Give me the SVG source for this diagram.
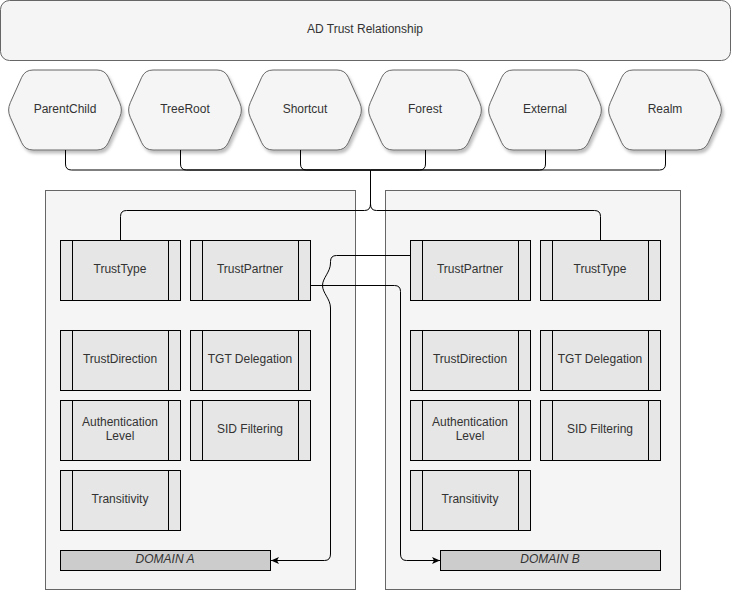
<svg xmlns="http://www.w3.org/2000/svg" xmlns:xlink="http://www.w3.org/1999/xlink" width="732" height="592" viewBox="0 0 732 592">
<style>
text{font-family:"Liberation Sans",Arial,Helvetica,sans-serif;font-size:12px;fill:#333;text-anchor:middle}
.ttl{fill:#f5f5f5;stroke:#666;stroke-width:1}
.hex{fill:#f5f5f5;stroke:#666;stroke-width:1}
.cont{fill:#f5f5f5;stroke:#666;stroke-width:1}
.proc{fill:#e6e6e6;stroke:#000;stroke-width:1}
.bar{fill:none;stroke:#000;stroke-width:1}
.dom{fill:#cccccc;stroke:#000;stroke-width:1}
.dt{font-style:italic}
.edge{fill:none;stroke:#000;stroke-width:1}
</style>
<defs>
<filter id="sh" x="-20%" y="-20%" width="140%" height="150%">
<feDropShadow dx="2" dy="3" stdDeviation="1.5" flood-color="#000" flood-opacity="0.25"/>
</filter>
<path id="hexp" d="M-54.7,32.7 L-43.3,7.3 Q-40,0 -32,0 L32,0 Q40,0 43.3,7.3 L54.7,32.7 Q58,40 54.7,47.3 L43.3,72.7 Q40,80 32,80 L-32,80 Q-40,80 -43.3,72.7 L-54.7,47.3 Q-58,40 -54.7,32.7 Z"/>
<marker id="arr" markerWidth="10" markerHeight="8" refX="8" refY="4" orient="auto" markerUnits="userSpaceOnUse">
<path d="M0,0.5 L8,4 L0,7.5 L2,4 Z" fill="#000"/>
</marker>
</defs>

<g id="title">
<rect class="ttl" x="0.5" y="0.5" width="730" height="60" rx="9" ry="9"/>
<text x="365" y="33">AD Trust Relationship</text>
</g>

<g id="hex-parentchild"><use xlink:href="#hexp" href="#hexp" class="hex" x="65" y="70" filter="url(#sh)"/><text x="65" y="113">ParentChild</text></g>
<g id="hex-treeroot"><use xlink:href="#hexp" href="#hexp" class="hex" x="185" y="70" filter="url(#sh)"/><text x="185" y="113">TreeRoot</text></g>
<g id="hex-shortcut"><use xlink:href="#hexp" href="#hexp" class="hex" x="305" y="70" filter="url(#sh)"/><text x="305" y="113">Shortcut</text></g>
<g id="hex-forest"><use xlink:href="#hexp" href="#hexp" class="hex" x="425" y="70" filter="url(#sh)"/><text x="425" y="113">Forest</text></g>
<g id="hex-external"><use xlink:href="#hexp" href="#hexp" class="hex" x="545" y="70" filter="url(#sh)"/><text x="545" y="113">External</text></g>
<g id="hex-realm"><use xlink:href="#hexp" href="#hexp" class="hex" x="665" y="70" filter="url(#sh)"/><text x="665" y="113">Realm</text></g>

<g id="domain-a-container"><rect class="cont" x="45.5" y="190.5" width="310" height="399"/></g>
<g id="domain-b-container"><rect class="cont" x="385.5" y="190.5" width="295" height="399"/></g>

<g id="a-trusttype"><rect class="proc" x="60.5" y="240.5" width="120" height="60"/><path class="bar" d="M72.5,240.5V300.5M168.5,240.5V300.5"/><text x="120" y="273">TrustType</text></g>
<g id="a-trustpartner"><rect class="proc" x="190.5" y="240.5" width="120" height="60"/><path class="bar" d="M202.5,240.5V300.5M298.5,240.5V300.5"/><text x="250" y="273">TrustPartner</text></g>
<g id="a-trustdirection"><rect class="proc" x="60.5" y="330.5" width="120" height="60"/><path class="bar" d="M72.5,330.5V390.5M168.5,330.5V390.5"/><text x="120" y="363">TrustDirection</text></g>
<g id="a-tgtdelegation"><rect class="proc" x="190.5" y="330.5" width="120" height="60"/><path class="bar" d="M202.5,330.5V390.5M298.5,330.5V390.5"/><text x="250" y="363">TGT Delegation</text></g>
<g id="a-authlevel"><rect class="proc" x="60.5" y="400.5" width="120" height="60"/><path class="bar" d="M72.5,400.5V460.5M168.5,400.5V460.5"/><text x="120" y="425.5">Authentication</text><text x="120" y="439.5">Level</text></g>
<g id="a-sidfiltering"><rect class="proc" x="190.5" y="400.5" width="120" height="60"/><path class="bar" d="M202.5,400.5V460.5M298.5,400.5V460.5"/><text x="250" y="433">SID Filtering</text></g>
<g id="a-transitivity"><rect class="proc" x="60.5" y="470.5" width="120" height="60"/><path class="bar" d="M72.5,470.5V530.5M168.5,470.5V530.5"/><text x="120" y="503">Transitivity</text></g>
<g id="domain-a"><rect class="dom" x="60.5" y="550.5" width="210" height="20"/><text class="dt" x="165" y="563">DOMAIN A</text></g>

<g id="b-trustpartner"><rect class="proc" x="410.5" y="240.5" width="120" height="60"/><path class="bar" d="M422.5,240.5V300.5M518.5,240.5V300.5"/><text x="470" y="273">TrustPartner</text></g>
<g id="b-trusttype"><rect class="proc" x="540.5" y="240.5" width="120" height="60"/><path class="bar" d="M552.5,240.5V300.5M648.5,240.5V300.5"/><text x="600" y="273">TrustType</text></g>
<g id="b-trustdirection"><rect class="proc" x="410.5" y="330.5" width="120" height="60"/><path class="bar" d="M422.5,330.5V390.5M518.5,330.5V390.5"/><text x="470" y="363">TrustDirection</text></g>
<g id="b-tgtdelegation"><rect class="proc" x="540.5" y="330.5" width="120" height="60"/><path class="bar" d="M552.5,330.5V390.5M648.5,330.5V390.5"/><text x="600" y="363">TGT Delegation</text></g>
<g id="b-authlevel"><rect class="proc" x="410.5" y="400.5" width="120" height="60"/><path class="bar" d="M422.5,400.5V460.5M518.5,400.5V460.5"/><text x="470" y="425.5">Authentication</text><text x="470" y="439.5">Level</text></g>
<g id="b-sidfiltering"><rect class="proc" x="540.5" y="400.5" width="120" height="60"/><path class="bar" d="M552.5,400.5V460.5M648.5,400.5V460.5"/><text x="600" y="433">SID Filtering</text></g>
<g id="b-transitivity"><rect class="proc" x="410.5" y="470.5" width="120" height="60"/><path class="bar" d="M422.5,470.5V530.5M518.5,470.5V530.5"/><text x="470" y="503">Transitivity</text></g>
<g id="domain-b"><rect class="dom" x="440.5" y="550.5" width="220" height="20"/><text class="dt" x="550" y="563">DOMAIN B</text></g>

<g id="connectors">
<path class="edge" d="M65.5,150 V164 Q65.5,170 71.5,170 H370.5"/>
<path class="edge" d="M180.5,150 V164 Q180.5,170 186.5,170 H370.5"/>
<path class="edge" d="M300.5,150 V164 Q300.5,170 306.5,170 H370.5"/>
<path class="edge" d="M425.5,150 V164 Q425.5,170 419.5,170 H370.5"/>
<path class="edge" d="M545.5,150 V164 Q545.5,170 539.5,170 H370.5"/>
<path class="edge" d="M665.5,150 V164 Q665.5,170 659.5,170 H370.5"/>
<path class="edge" d="M370.5,170 V204 Q370.5,210.5 364.5,210.5 H126.5 Q120.5,210.5 120.5,216.5 V240"/>
<path class="edge" d="M370.5,170 V204 Q370.5,210.5 376.5,210.5 H594.5 Q600.5,210.5 600.5,216.5 V240"/>
<path class="edge" marker-end="url(#arr)" d="M410,255.5 H336.5 Q330.5,255.5 330.5,261.5 V263 C330.5,272 322.5,278 322.5,285.5 C322.5,293 330.5,299 330.5,308 V554 Q330.5,560.5 324.5,560.5 H271"/>
<path class="edge" marker-end="url(#arr)" d="M311,285.5 H394.5 Q400.5,285.5 400.5,291.5 V554 Q400.5,560.5 406.5,560.5 H440"/>
</g>
</svg>
